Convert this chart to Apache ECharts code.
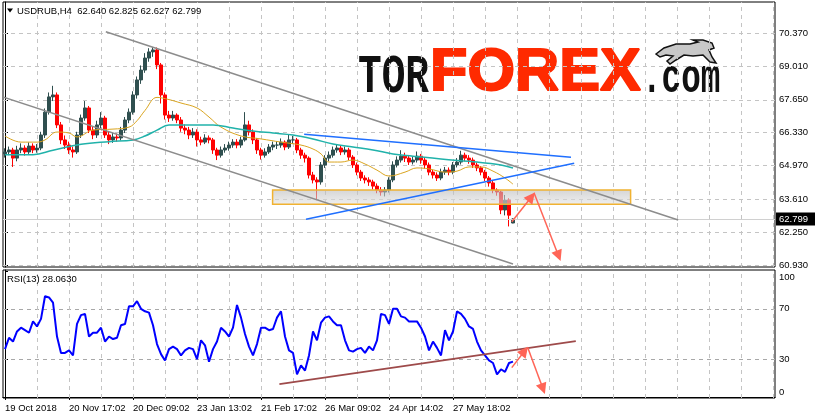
<!DOCTYPE html>
<html>
<head>
<meta charset="utf-8">
<script src="https://cdn.jsdelivr.net/npm/echarts@6/dist/echarts.min.js"></script>
<style>
  html, body { margin: 0; padding: 0; background: #fff; }
  #chart { width: 815px; height: 419px; }
</style>
</head>
<body>
<div id="chart"></div>
<script>
// USDRUB H4, one slot = a group of H4 bars
var dateLabels = ['19 Oct 2018', '20 Nov 17:02', '20 Dec 09:02', '23 Jan 13:02', '21 Feb 17:02', '26 Mar 09:02', '24 Apr 14:02', '27 May 18:02']
var priceTicks = [60.93, 62.25, 63.61, 64.97, 66.33, 67.65, 69.01, 70.37]
var rsiTicks = [0, 30, 70, 100]
var lastQuote = [62.640, 62.825, 62.627, 62.799]
var rsiLast = 28.0630

var opens = [
  65.45, 65.53, 65.61, 65.28, 65.61, 65.69, 65.53, 65.77, 65.61, 65.69,
  66.22, 67.15, 67.77, 67.85, 66.63, 66.02, 65.81, 65.61, 65.53, 66.22,
  66.91, 67.32, 66.42, 66.22, 66.63, 66.91, 66.22, 66.02, 66.14, 66.10,
  66.42, 66.83, 67.15, 67.85, 68.46, 68.86, 69.35, 69.60, 69.68, 69.07,
  67.85, 67.03, 66.91, 67.03, 66.83, 66.50, 66.42, 66.22, 66.34, 66.02,
  65.93, 66.10, 66.02, 65.61, 65.40, 65.61, 65.69, 65.81, 65.93, 65.81,
  66.02, 66.63, 66.34, 66.02, 65.61, 65.40, 65.53, 65.73, 65.81, 65.81,
  65.93, 65.73, 66.02, 66.02, 65.61, 65.40, 65.28, 64.59, 64.39, 64.31,
  65.00, 65.28, 65.40, 65.61, 65.69, 65.53, 65.61, 65.32, 65.00, 64.71,
  64.47, 64.39, 64.31, 64.14, 63.98, 63.90, 63.98, 64.39, 65.00, 65.20,
  65.36, 65.28, 65.12, 65.20, 65.36, 65.20, 65.00, 64.71, 64.59, 64.47,
  64.71, 64.79, 64.71, 65.00, 65.12, 65.40, 65.28, 65.20, 65.00, 64.88,
  64.71, 64.47, 64.27, 63.98, 63.90, 63.17, 63.57, 62.64
]
var closes = [
  65.53, 65.61, 65.28, 65.61, 65.69, 65.53, 65.77, 65.61, 65.69, 66.22,
  67.15, 67.77, 67.85, 66.63, 66.02, 65.81, 65.61, 65.53, 66.22, 66.91,
  67.32, 66.42, 66.22, 66.63, 66.91, 66.22, 66.02, 66.14, 66.10, 66.42,
  66.83, 67.15, 67.85, 68.46, 68.86, 69.35, 69.60, 69.68, 69.07, 67.85,
  67.03, 66.91, 67.03, 66.83, 66.50, 66.42, 66.22, 66.34, 66.02, 65.93,
  66.10, 66.02, 65.61, 65.40, 65.61, 65.69, 65.81, 65.93, 65.81, 66.02,
  66.63, 66.34, 66.02, 65.61, 65.40, 65.53, 65.73, 65.81, 65.81, 65.93,
  65.73, 66.02, 66.02, 65.61, 65.40, 65.28, 64.59, 64.39, 64.31, 65.00,
  65.28, 65.40, 65.61, 65.69, 65.53, 65.61, 65.32, 65.00, 64.71, 64.47,
  64.39, 64.31, 64.14, 63.98, 63.90, 63.98, 64.39, 65.00, 65.20, 65.36,
  65.28, 65.12, 65.20, 65.36, 65.20, 65.00, 64.71, 64.59, 64.47, 64.71,
  64.79, 64.71, 65.00, 65.12, 65.40, 65.28, 65.20, 65.00, 64.88, 64.71,
  64.47, 64.27, 63.98, 63.90, 63.17, 63.57, 62.96, 62.80
]
var lows = [
  65.30, 65.40, 64.92, 65.15, 65.48, 65.38, 65.45, 65.48, 65.50, 65.60,
  66.10, 67.05, 67.60, 66.50, 65.85, 65.65, 65.45, 65.30, 65.45, 66.10,
  66.80, 66.30, 66.05, 66.10, 66.50, 66.10, 65.85, 65.90, 65.95, 66.00,
  66.30, 66.70, 67.05, 67.70, 68.30, 68.75, 69.20, 69.40, 68.90, 67.50,
  66.85, 66.75, 66.80, 66.70, 66.35, 66.25, 66.05, 66.10, 65.75, 65.80,
  65.85, 65.88, 65.45, 65.20, 65.30, 65.50, 65.58, 65.70, 65.68, 65.70,
  65.95, 66.20, 65.85, 65.45, 65.22, 65.30, 65.45, 65.60, 65.65, 65.70,
  65.60, 65.65, 65.85, 65.48, 65.25, 65.10, 64.45, 64.25, 63.57, 64.20,
  64.88, 65.15, 65.30, 65.50, 65.40, 65.42, 65.20, 64.88, 64.58, 64.35,
  64.25, 64.15, 64.00, 63.85, 63.75, 63.72, 63.88, 64.30, 64.90, 65.10,
  65.12, 65.00, 65.02, 65.10, 65.05, 64.85, 64.58, 64.45, 64.35, 64.38,
  64.60, 64.58, 64.62, 64.90, 65.02, 65.15, 65.05, 64.88, 64.75, 64.58,
  64.35, 64.12, 63.85, 63.75, 63.00, 62.95, 62.50, 62.63
]
var highs = [
  65.68, 65.75, 65.70, 65.78, 65.88, 65.80, 65.92, 65.88, 65.85, 66.35,
  67.30, 67.95, 68.22, 67.95, 66.75, 66.20, 65.95, 65.75, 66.35, 67.05,
  67.60, 67.40, 66.55, 66.80, 67.15, 67.00, 66.35, 66.30, 66.28, 66.55,
  66.95, 67.30, 68.00, 68.60, 69.05, 69.55, 69.75, 69.80, 69.78, 69.15,
  67.95, 67.20, 67.20, 67.10, 66.95, 66.65, 66.55, 66.50, 66.45, 66.15,
  66.25, 66.20, 66.10, 65.70, 65.75, 65.85, 65.95, 66.05, 66.05, 66.15,
  67.15, 66.80, 66.45, 66.10, 65.70, 65.68, 65.85, 65.95, 65.97, 66.08,
  66.00, 66.22, 66.18, 66.10, 65.70, 65.50, 65.35, 64.72, 64.50, 65.12,
  65.40, 65.55, 65.75, 65.85, 65.80, 65.75, 65.70, 65.40, 65.10, 64.80,
  64.58, 64.50, 64.40, 64.25, 64.10, 64.10, 64.50, 65.15, 65.35, 65.60,
  65.50, 65.40, 65.35, 65.55, 65.45, 65.30, 65.10, 64.80, 64.70, 64.85,
  64.92, 64.90, 65.12, 65.28, 65.58, 65.50, 65.40, 65.30, 65.10, 64.95,
  64.80, 64.55, 64.35, 64.05, 63.95, 63.78, 63.65, 62.83
]
var rsiValues = [
  38, 47, 44, 52, 55, 53, 51, 60, 56, 62,
  80, 79, 75, 48, 35, 35, 37, 33, 58, 65,
  66, 48, 51, 51, 55, 44, 48, 46, 47, 57,
  58, 72, 72, 76, 70, 68, 67, 57, 42, 34,
  29, 38, 40, 38, 33, 37, 39, 38, 30, 45,
  41, 28, 38, 44, 55, 52, 48, 55, 73, 63,
  50, 40, 33, 42, 55, 55, 53, 54, 63, 68,
  48, 37, 35, 18, 25, 21, 33, 52, 45, 59,
  63, 64, 60, 57, 57, 45, 37, 36, 38, 39,
  35, 40, 37, 45, 66, 65, 58, 70, 70, 64,
  63, 60, 60, 60, 55, 48, 37, 44, 39, 33,
  53, 45, 52, 68, 66, 62, 56, 54, 44, 37,
  33, 29, 27, 18, 22, 20, 27, 28.06
]
// moving averages read at [slot, price]
var maFast = [[0, 66.18], [4, 65.93], [8, 65.93], [10, 66.02], [13, 66.34], [16, 66.30], [18, 66.14], [22, 66.42], [27, 66.46], [31, 66.54], [33, 66.80], [35, 67.22], [38, 67.75], [41, 67.66], [44, 67.52], [48, 67.32], [51, 66.95], [54, 66.54], [59, 66.18], [64, 66.06], [69, 65.93], [74, 65.81], [77, 65.65], [79, 65.45], [81, 65.12], [84, 65.12], [87, 65.20], [90, 65.04], [93, 64.79], [96, 64.55], [100, 64.71], [103, 64.88], [106, 64.84], [110, 64.71], [113, 64.75], [116, 64.92], [119, 64.92], [122, 64.75], [125, 64.47], [127, 64.22]]
var maSlow = [[0, 65.42], [7, 65.42], [12, 65.60], [19, 65.84], [26, 65.95], [32, 66.02], [35, 66.18], [38, 66.42], [41, 66.63], [47, 66.63], [52, 66.63], [57, 66.50], [62, 66.38], [67, 66.30], [72, 66.22], [77, 66.06], [82, 65.85], [87, 65.73], [92, 65.61], [97, 65.45], [102, 65.36], [109, 65.24], [118, 65.12], [124, 65.00], [127, 64.88]]

// drawn objects, [slot, price] / [slot, rsi]
var channelUpper = [[25.2, 70.42], [168.3, 62.76]]
var channelLower = [[-0.75, 67.78], [127, 60.97]]
var triangleUpper = [[74.8, 66.25], [141.5, 65.31]]
var triangleLower = [[75.25, 62.79], [142.3, 65.07]]
var supportZone = [66.9, 63.98, 156.4, 63.40]
var arrowUp = [[126.7, 62.69], [131.6, 63.70]]
var arrowDown = [[132.25, 63.87], [138.4, 61.30]]
var rsiTrend = [[68.6, 10.3], [142.7, 44.4]]
var rsiArrowUp = [[126.7, 23.3], [129.9, 36.5]]
var rsiArrowDown = [[130.7, 39.1], [134.5, 6.5]]

var SLOTS = 193
var PRICE_MIN = 60.85, PRICE_MAX = 71.63
var RSI_MIN = -0.8, RSI_MAX = 100.8
var FONT = 'Liberation Sans, Arial, sans-serif'
var GRID_LINE = { color: '#c4c4c4', type: [4, 4], width: 1 }

var categories = []
for (var i = 0; i < SLOTS; i++) categories.push(String(i))
var candleData = opens.map(function (o, k) { return [o, closes[k], lows[k], highs[k]] })
var isLabelSlot = function (idx) { return idx % 16 === 0 && idx / 16 < dateLabels.length }

// dashed vertical grid every 8 slots
var vMarks = []
for (var k = 8; k < SLOTS; k += 8) vMarks.push({ xAxis: k, lineStyle: GRID_LINE })

const chart = echarts.init(document.getElementById('chart'))

let option = {
  animation: false,
  backgroundColor: '#fff',
  grid: [
    { left: 3, right: 40, top: 2, bottom: 152, show: true, backgroundColor: 'transparent', borderColor: '#000', borderWidth: 1, outerBoundsMode: 'none' },
    { left: 3, right: 40, top: 270, bottom: 21, show: true, backgroundColor: 'transparent', borderColor: '#000', borderWidth: 1, outerBoundsMode: 'none' }
  ],
  xAxis: [
    {
      gridIndex: 0, type: 'category', data: categories, boundaryGap: true,
      axisLine: { show: false }, axisTick: { show: false }, axisLabel: { show: false }, splitLine: { show: false }
    },
    { gridIndex: 0, type: 'value', min: -0.5, max: SLOTS - 0.5, show: false },
    {
      gridIndex: 1, type: 'category', data: categories, boundaryGap: true, position: 'bottom',
      axisLine: { show: true, lineStyle: { color: '#000' } },
      axisTick: { show: true, length: 3, alignWithLabel: true, interval: isLabelSlot, lineStyle: { color: '#000' } },
      axisLabel: {
        interval: isLabelSlot, align: 'left', margin: 5, color: '#000', fontSize: 9.5, fontFamily: FONT,
        formatter: function (v, idx) { return isLabelSlot(idx) ? dateLabels[idx / 16] : '' }
      },
      splitLine: { show: false }
    },
    { gridIndex: 1, type: 'value', min: -0.5, max: SLOTS - 0.5, show: false }
  ],
  yAxis: [
    {
      gridIndex: 0, type: 'value', position: 'right', min: PRICE_MIN, max: PRICE_MAX,
      axisLine: { show: true, lineStyle: { color: '#000' } },
      axisTick: { show: true, length: 3, customValues: priceTicks, lineStyle: { color: '#000' } },
      axisLabel: { customValues: priceTicks, formatter: function (v) { return v.toFixed(3) }, color: '#000', fontSize: 9.5, fontFamily: FONT, margin: 4 },
      splitLine: { show: false }
    },
    {
      gridIndex: 1, type: 'value', position: 'right', min: RSI_MIN, max: RSI_MAX,
      axisLine: { show: true, lineStyle: { color: '#000' } },
      axisTick: { show: true, length: 3, customValues: rsiTicks, lineStyle: { color: '#000' } },
      axisLabel: {
        customValues: rsiTicks, color: '#000', fontSize: 9.5, fontFamily: FONT, margin: 4,
        formatter: function (v) { return v === 100 ? '{t|100}' : v === 0 ? '{b|0}' : String(v) },
        rich: {
          t: { padding: [12, 0, 0, 0], fontSize: 9.5, fontFamily: FONT, color: '#000' },
          b: { padding: [0, 0, 10, 0], fontSize: 9.5, fontFamily: FONT, color: '#000' }
        }
      },
      splitLine: { show: false }
    }
  ],
  series: [
    {
      name: 'USDRUB', type: 'candlestick', xAxisIndex: 0, yAxisIndex: 0, z: 3,
      data: candleData, barWidth: 2.6,
      itemStyle: { color: '#2f4f4f', color0: '#ff0000', borderColor: '#2f4f4f', borderColor0: '#ff0000', borderWidth: 1 },
      markLine: {
        silent: true, symbol: 'none', animation: false,
        lineStyle: { color: '#d0d0d0', type: 'solid', width: 1 },
        label: {
          show: true, position: 'end', distance: 1, formatter: lastQuote[3].toFixed(3),
          backgroundColor: '#000', color: '#fff', fontSize: 9.5, fontFamily: FONT, padding: [2, 8, 1, 3]
        },
        data: [{ yAxis: lastQuote[3] }]
      }
    },
    { name: 'MA fast', type: 'line', xAxisIndex: 0, yAxisIndex: 0, z: 4, data: maFast, smooth: 0.4, showSymbol: false, silent: true, lineStyle: { color: '#daa520', width: 1 } },
    {
      name: 'MA slow', type: 'line', xAxisIndex: 0, yAxisIndex: 0, z: 4, data: maSlow, smooth: 0.4, showSymbol: false, silent: true, lineStyle: { color: '#20b2aa', width: 1.5 },
      // chart grid of the price panel
      markLine: {
        silent: true, symbol: 'none', animation: false, z: 1, label: { show: false },
        lineStyle: GRID_LINE,
        data: vMarks.concat(priceTicks.map(function (p) { return { yAxis: p, lineStyle: GRID_LINE } }))
      }
    },
    {
      name: 'zone', type: 'custom', xAxisIndex: 1, yAxisIndex: 0, z: 5, silent: true,
      data: [supportZone],
      renderItem: function (params, api) {
        var p1 = api.coord([api.value(0), api.value(1)])
        var p2 = api.coord([api.value(2), api.value(3)])
        return {
          type: 'rect',
          shape: { x: p1[0], y: p1[1], width: p2[0] - p1[0], height: p2[1] - p1[1] },
          style: {
            fill: new echarts.graphic.LinearGradient(0, 0, 0, 1, [
              { offset: 0, color: 'rgba(185,185,185,0.6)' },
              { offset: 1, color: 'rgba(230,230,230,0.6)' }
            ]),
            stroke: '#f0b232', lineWidth: 1.5
          }
        }
      }
    },
    {
      name: 'trendlines', type: 'lines', coordinateSystem: 'cartesian2d', xAxisIndex: 1, yAxisIndex: 0, z: 6, silent: true,
      symbol: ['none', 'none'],
      data: [
        { coords: channelUpper, lineStyle: { color: '#8c8c8c', width: 1.5, opacity: 1 } },
        { coords: channelLower, lineStyle: { color: '#8c8c8c', width: 1.5, opacity: 1 } },
        { coords: triangleUpper, lineStyle: { color: '#1f6fff', width: 1.5, opacity: 1 } },
        { coords: triangleLower, lineStyle: { color: '#1f6fff', width: 1.5, opacity: 1 } }
      ]
    },
    {
      name: 'arrows', type: 'lines', coordinateSystem: 'cartesian2d', xAxisIndex: 1, yAxisIndex: 0, z: 7, silent: true,
      symbol: ['none', 'triangle'], symbolSize: 11,
      lineStyle: { color: '#ff6557', width: 1.5, opacity: 1 },
      data: [{ coords: arrowUp }, { coords: arrowDown }]
    },
    {
      name: 'RSI(13)', type: 'line', xAxisIndex: 2, yAxisIndex: 1, z: 4, data: rsiValues, showSymbol: false, silent: true,
      lineStyle: { color: '#0000ff', width: 2 },
      markLine: {
        silent: true, symbol: 'none', animation: false, z: 1, label: { show: false },
        lineStyle: GRID_LINE,
        data: [
          { yAxis: 30, lineStyle: { color: '#a8a8a8', type: [4, 4], width: 1 } },
          { yAxis: 70, lineStyle: { color: '#a8a8a8', type: [4, 4], width: 1 } }
        ].concat(vMarks)
      }
    },
    {
      name: 'rsi trend', type: 'lines', coordinateSystem: 'cartesian2d', xAxisIndex: 3, yAxisIndex: 1, z: 6, silent: true,
      symbol: ['none', 'none'],
      data: [{ coords: rsiTrend, lineStyle: { color: '#9e4a4a', width: 1.8, opacity: 1 } }]
    },
    {
      name: 'rsi arrows', type: 'lines', coordinateSystem: 'cartesian2d', xAxisIndex: 3, yAxisIndex: 1, z: 7, silent: true,
      symbol: ['none', 'triangle'], symbolSize: 11,
      lineStyle: { color: '#ff6557', width: 1.5, opacity: 1 },
      data: [{ coords: rsiArrowUp }, { coords: rsiArrowDown }]
    }
  ],
  graphic: [
    { type: 'polygon', shape: { points: [[7, 8.5], [13, 8.5], [10, 12.5]] }, style: { fill: '#000' }, z: 10 },
    {
      type: 'text', x: 17, y: 11, z: 10,
      style: { text: 'USDRUB,H4  ' + lastQuote.map(function (v) { return v.toFixed(3) }).join(' '), font: '9.5px ' + FONT, fill: '#000', textVerticalAlign: 'middle' }
    },
    {
      type: 'text', x: 7, y: 279, z: 10,
      style: { text: 'RSI(13) ' + rsiLast.toFixed(4), font: '9.5px ' + FONT, fill: '#000', textVerticalAlign: 'middle' }
    },
    // watermark
    { type: 'text', x: 358, y: 78, scaleX: 0.73, z: 1, style: { text: 'TOR', font: 'bold 54px "Liberation Mono", monospace', fill: '#111', textVerticalAlign: 'middle' } },
    { type: 'text', x: 430, y: 73, scaleX: 1.02, z: 1, style: { text: 'FOREX', font: 'bold 60px "Liberation Sans", Arial, sans-serif', fill: '#ff2a00', stroke: '#ff2a00', lineWidth: 2, textVerticalAlign: 'middle' } },
    { type: 'text', x: 642, y: 80, scaleX: 0.68, z: 1, style: { text: '.com', font: 'bold 48px "Liberation Mono", monospace', fill: '#111', textVerticalAlign: 'middle' } },
    {
      type: 'polygon', z: 1,
      shape: { points: [[656, 54], [664, 48], [676, 44], [690, 44], [698, 42], [693, 40], [703, 40], [712, 43], [714, 48], [709, 50], [712, 57], [716, 63], [710, 62], [703, 55], [693, 56], [684, 55], [676, 60], [670, 64], [667, 61], [673, 56], [666, 55], [660, 57]] },
      style: { fill: '#c8c8c8', stroke: '#111', lineWidth: 1.5 }
    }
  ]
}

chart.setOption(option)
</script>
</body>
</html>
